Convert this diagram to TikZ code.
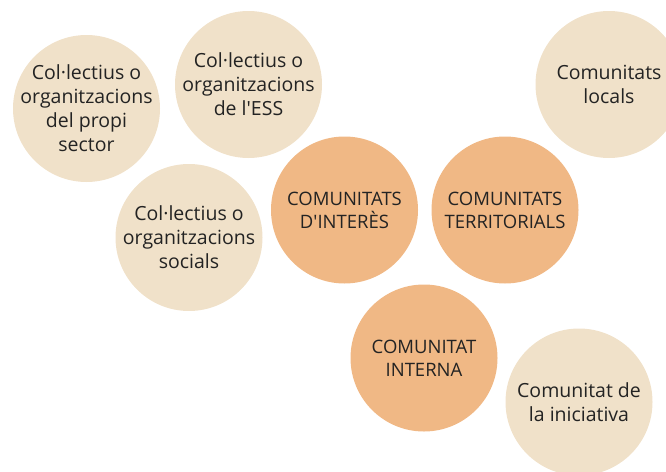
\documentclass[tikz,border=0pt]{standalone}
\usepackage{fontspec}
\setmainfont{Open Sans}
\usetikzlibrary{positioning}
\definecolor{beige}{HTML}{F0E1C9}
\definecolor{peach}{HTML}{F0B885}
\definecolor{ink}{HTML}{232323}
\tikzset{
  bubble/.style={circle, minimum size=147pt, inner sep=-15pt, align=center, text=ink, font=\fontsize{19.5}{24}\selectfont},
  outer/.style={bubble, fill=beige},
  core/.style={bubble, fill=peach, font=\fontsize{18.5}{23}\selectfont}
}

\begin{document}
\begin{tikzpicture}[x=1pt,y=-1pt]
\useasboundingbox (0,0) rectangle (666,471);
\clip (0,0) rectangle (666,471);

\node[outer] (sector) at (86.5,108.5) {Col·lectius o\\organitzacions\\del propi\\sector};
\node[outer] (ess) at (248.5,84.5) {Col·lectius o\\organitzacions\\de l\textquotesingle ESS};
\node[outer] (socials) at (189,237.5) {Col·lectius o\\organitzacions\\socials};
\node[outer] (locals) at (609,84.5) {Comunitats\\locals};
\node[outer] (iniciativa) at (579,402) {Comunitat de\\la iniciativa};

\node[core] (interes) at (344.5,210) {COMUNITATS\\D\textquotesingle INTERÈS};
\node[core] (territorials) at (505,210) {COMUNITATS\\TERRITORIALS};
\node[core] (interna) at (424,358) {COMUNITAT\\INTERNA};
\end{tikzpicture}
\end{document}
